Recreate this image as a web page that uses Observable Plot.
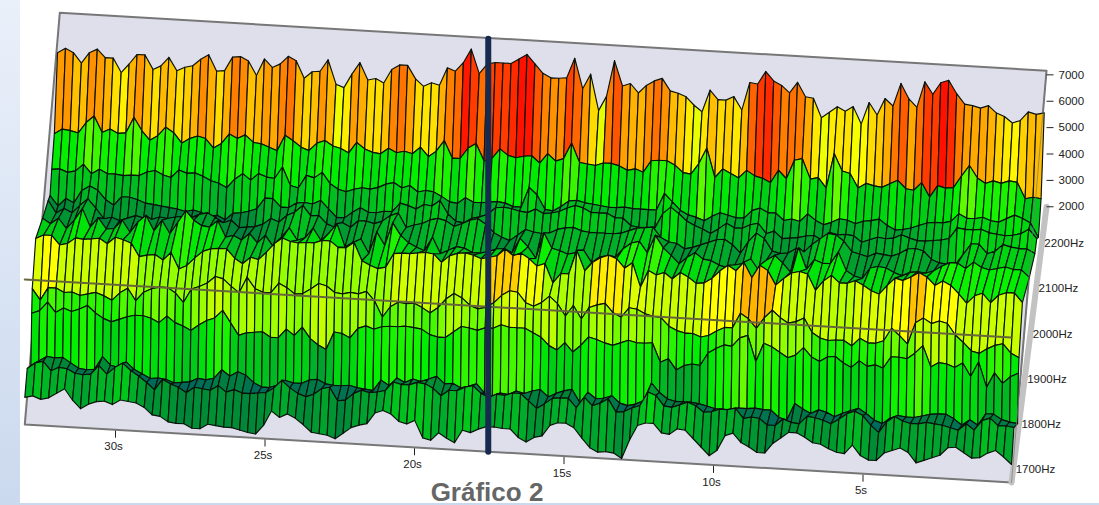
<!DOCTYPE html>
<html lang="pt">
<head>
<meta charset="utf-8">
<script src="https://cdn.jsdelivr.net/npm/d3@7"></script>
<script src="https://cdn.jsdelivr.net/npm/@observablehq/plot@0.6"></script>
<style>
html,body{margin:0;padding:0;width:1099px;height:505px;overflow:hidden;background:linear-gradient(#eaf0fa,#cbd9ee);}
#sheet{position:absolute;left:20px;top:0;width:1079px;height:503px;background:#fff;}
#chart{position:absolute;left:0;top:0;}
#title{position:absolute;left:387px;width:200px;top:477px;text-align:center;font:bold 26px "Liberation Sans",Arial,sans-serif;color:#666;line-height:30px;}
</style>
</head>
<body>
<div id="sheet"></div>
<div id="chart"></div>
<div id="title">Gráfico 2</div>
<script>
// Surface levels: one value per time column, one array per frequency row (front to back).
const hz1680=[27,29,26,28,33,38,27,19,24,27,28,25,30,29,28,24,17,16,11,10,10,6,6,11,10,9,9,7,5,4,13,28,22,26,22,16,9,8,7,4,10,16,19,21,32,35,32,25,23,27,10,8,16,11,7,20,18,22,25,25,24,24,16,12,17,19,30,33,33,29,19,10,6,7,6,1,20,35,38,38,29,28,34,33,25,17,9,15,30,33,24,20,15,15,25,31,37,37,33,28,27,23,20,19,28,18,14,14,22,25,28,24,14,17,20,23,31,32,27,22,23,28,31,25,18];
const hz1722=[37,43,45,36,40,39,35,34,35,44,36,43,48,41,36,30,23,34,30,27,22,28,27,26,31,25,28,25,25,26,27,32,40,33,28,25,28,34,36,23,24,31,35,33,34,36,45,43,43,46,45,41,34,40,40,44,46,39,35,39,38,41,41,34,27,32,38,39,39,30,41,33,36,41,28,29,33,36,50,47,37,36,39,42,39,33,34,37,37,39,29,31,30,24,24,31,28,27,35,34,32,29,34,40,43,39,30,23,34,40,36,34,34,36,35,34,32,30,37,31,41,44,37,37,36];
const hz1786=[11,16,21,20,21,16,11,10,11,24,16,14,20,13,9,5,6,5,2,3,4,8,7,9,18,12,17,14,7,3,3,6,11,9,9,13,14,10,9,9,10,8,7,6,17,12,20,16,20,18,21,24,17,18,14,16,19,10,7,11,10,14,12,15,17,10,14,17,19,6,17,11,12,15,8,6,8,12,30,21,15,13,13,13,12,10,8,8,8,10,10,11,10,10,3,1,18,13,9,13,11,7,11,14,17,12,6,3,9,12,11,11,13,15,16,16,12,6,12,7,19,19,14,12,11];
const hz1800=[57,60,69,59,64,61,64,68,61,56,53,56,59,61,61,59,55,62,56,53,49,55,60,63,71,59,47,50,51,52,47,47,56,50,59,48,42,38,56,55,51,61,64,61,64,65,65,66,65,64,59,57,57,63,69,68,66,69,69,73,71,71,71,67,63,55,51,59,50,57,66,64,61,59,62,65,63,63,64,45,49,38,43,45,44,57,62,66,65,74,77,51,70,67,62,57,60,68,59,55,60,61,55,51,58,53,55,52,64,64,63,69,77,56,61,60,57,62,49,64,39,54,44,51,55];
const hz1810=[77,66,79,79,75,76,73,75,77,74,70,78,83,71,80,84,86,86,81,72,86,89,93,100,98,91,85,101,90,87,87,97,93,87,88,93,99,97,91,90,92,91,94,85,69,80,85,84,85,81,76,82,91,97,93,86,83,85,90,98,103,102,92,89,93,100,93,81,92,79,91,94,96,87,83,93,92,88,86,85,77,73,71,71,68,70,75,79,79,94,89,80,91,99,92,87,89,93,79,74,72,73,73,68,76,72,72,75,88,81,73,95,100,95,98,96,85,78,70,68,73,77,79,70,66];
const hz1870=[100,104,104,95,97,103,102,103,104,99,106,104,101,88,90,91,86,94,78,82,90,97,100,101,101,92,87,94,92,100,109,115,112,111,112,112,115,115,109,109,115,97,93,90,92,106,107,107,108,109,108,100,107,110,111,109,106,108,110,117,111,114,109,102,105,86,96,96,120,100,109,114,117,114,105,111,87,104,100,103,97,104,100,94,95,100,108,114,109,118,103,116,111,97,104,110,112,110,94,104,110,103,103,106,102,97,94,103,111,109,113,118,114,106,111,107,99,90,98,101,92,100,103,103,94];
const hz1990=[66,61,67,57,66,78,60,70,59,60,69,57,68,75,60,71,58,70,82,73,68,67,74,58,60,56,63,54,62,51,61,71,59,62,72,60,68,78,55,60,64,50,72,59,82,70,63,59,56,70,54,58,62,61,57,57,59,62,63,59,74,66,55,81,66,64,61,63,66,54,60,62,61,70,76,78,67,85,73,66,58,65,70,64,63,59,57,60,62,67,56,67,72,65,56,81,60,70,67,67,79,61,56,54,65,67,66,62,59,63,64,63,66,71,75,75,70,77,72,70,72,74,72,72,65];
const hz2087=[40,28,33,29,37,44,35,25,27,24,27,30,28,27,30,29,31,32,31,35,37,33,28,31,24,25,26,29,35,32,39,43,50,40,41,33,30,35,31,38,38,36,39,45,48,34,37,39,43,45,43,38,41,45,47,42,34,30,27,33,39,37,36,37,41,43,44,41,40,40,40,40,41,44,47,48,49,39,35,34,29,31,34,37,40,41,36,28,40,49,44,32,30,31,36,33,41,47,53,52,46,36,34,32,36,35,34,37,42,43,41,33,30,29,29,40,51,51,42,45,52,50,49,49,45];
const hz2120=[30,20,28,24,37,42,38,29,24,33,33,31,28,27,26,25,24,22,24,22,19,20,16,23,24,26,29,40,40,32,32,37,38,37,41,33,25,25,31,36,32,32,34,34,43,41,38,43,42,48,35,28,27,32,34,37,44,45,44,42,41,45,41,42,44,48,51,49,45,45,45,41,41,34,33,33,33,48,55,49,42,38,35,31,36,42,38,38,42,44,34,37,30,31,32,34,35,31,39,37,38,37,31,34,37,36,37,41,38,36,36,37,38,40,51,50,50,51,48,47,46,47,49,54,45];
const hz2149=[43,44,41,43,50,41,46,42,42,41,42,42,46,48,44,42,50,47,48,45,41,39,35,44,50,44,51,48,47,59,41,39,52,50,56,45,40,38,41,43,42,44,48,50,45,48,42,44,43,39,34,33,39,35,35,36,37,36,33,33,53,46,32,31,36,42,43,41,40,39,38,38,39,38,38,38,38,55,47,39,35,33,30,35,39,37,35,35,43,46,42,42,35,37,35,43,37,33,36,40,39,36,39,40,42,36,32,33,35,38,41,42,42,44,52,48,48,50,47,46,50,54,51,47,33];
const hz2195=[58,63,62,60,71,78,62,66,62,63,79,66,57,62,71,66,56,61,64,62,53,58,68,64,68,61,60,57,54,70,65,59,56,64,67,62,60,56,67,61,58,57,63,59,61,59,66,57,63,74,57,57,68,73,56,59,69,63,61,63,64,57,67,60,63,79,60,59,58,61,61,59,55,57,54,66,67,67,63,56,55,66,82,53,62,58,54,62,57,55,51,64,56,75,77,57,59,49,84,67,65,51,56,54,53,57,61,53,52,60,46,58,56,57,69,80,68,63,66,64,67,66,50,52,51];
const hz2250=[114,119,115,105,116,120,112,112,98,107,117,117,103,107,116,103,107,109,116,121,105,106,120,121,117,103,120,112,116,124,120,103,110,111,123,99,96,110,122,105,107,103,117,122,122,109,102,106,104,122,119,128,142,118,128,130,130,130,135,140,131,122,118,118,119,139,109,124,88,103,139,114,117,108,116,121,124,112,110,107,99,93,115,106,106,110,97,125,124,137,128,124,117,128,114,113,94,100,106,102,107,90,112,100,117,110,133,118,110,136,124,136,139,126,116,115,113,116,109,106,100,103,112,110,112];
// Colour level of the yellow band.
const tone1870=[94,100,100,91,91,91,91,91,91,91,91,91,91,82,82,82,82,82,82,82,82,82,82,82,86,86,86,86,86,86,86,82,82,82,82,82,82,82,82,82,82,82,82,82,84,92,92,92,92,92,92,91,91,91,91,91,91,108,108,108,108,98,98,98,86,86,86,86,86,86,103,103,103,103,94,94,94,91,91,91,91,91,91,91,100,100,100,100,105,112,112,112,112,100,91,91,91,91,91,91,88,88,88,94,94,94,94,94,100,100,110,110,100,100,100,100,91,91,91,91,91,91,91,91,91];

const rowHz=[1680,1722,1786,1800,1810,1870,1990,2087,2120,2149,2195,2250];
const rowLevels=[hz1680,hz1722,hz1786,hz1800,hz1810,hz1870,hz1990,hz2087,hz2120,hz2149,hz2195,hz2250];
const rowToneShift=[0,6,12,0,-8,0,-10,4,6,6,0,0];
const spanSec=33;
const timeTicks=[30,25,20,15,10,5];
const hzTicks=[1700,1800,1900,2000,2100,2200];
const ampTicks=[2000,3000,4000,5000,6000,7000];
const ampPerLevel=37.9;
const cursorSec=17.5;
const planeBackHz=2290, planeTopLevel=136;
const guideLevel=145;
const colorLevels=[18,30,45,62,80,100,118,136];
const colorRange=["#006a5a","#00843a","#00b028","#00f000","#88ff00","#ffff00","#ff9000","#ff1000"];

rowLevels.forEach((r,k)=>{if(r.length!==125)throw new Error("row "+rowHz[k]+" has "+r.length);});
if(tone1870.length!==125)throw new Error("tone "+tone1870.length);

// Oblique projection of (seconds, hertz, level) onto the picture plane.
const X=(t,f)=>1011-29.9*t+(f-1680)*0.0574;
const Y=(t,f,l)=>482-1.76*t-(f-1680)*0.452-l;
const pt=(t,f,l,id,v)=>({x:X(t,f),y:Y(t,f,l),id,v});
const colSec=i=>spanSec-i*spanSec/124;

// Quads back to front
const cells=[];
let id=0;
for(let r=rowHz.length-1;r>=1;r--){
  const back=rowLevels[r],front=rowLevels[r-1],fb=rowHz[r],ff=rowHz[r-1];
  for(let i=0;i<124;i++){
    const t0=colSec(i),t1=colSec(i+1);
    const v=rowHz[r]===1870?tone1870[i]:(back[i]+back[i+1])/2+rowToneShift[r];
    id++;
    cells.push(pt(t0,ff,front[i],id,v),pt(t1,ff,front[i+1],id,v),pt(t1,fb,back[i+1],id,v),pt(t0,fb,back[i],id,v),pt(t0,ff,front[i],id,v));
  }
}
const plane=[pt(spanSec,1680,0),pt(0,1680,0),pt(0,planeBackHz,planeTopLevel),pt(spanSec,planeBackHz,planeTopLevel),pt(spanSec,1680,0)];
const sideWall=[pt(0,1680,0),pt(0,planeBackHz,0)];
const overEdge=[pt(0,1680,0),pt(0,planeBackHz,planeTopLevel)];
const guide=[pt(spanSec,1680,guideLevel),pt(0,1680,guideLevel)];
const cursor=[pt(cursorSec,1680,0),pt(cursorSec,1680,413)];

const timeT=timeTicks.map(t=>({x1:X(t,1680)+1,y1:Y(t,1680,-1),x2:X(t,1680)+1,y2:Y(t,1680,-8),lx:X(t,1680)-1,ly:Y(t,1680,-17),s:t+"s"}));
const hzT=hzTicks.map(f=>({x:X(0,f)+3,y:Y(0,f,0)-4,s:f+"Hz"}));
const ampT=ampTicks.map(a=>{const l=(a-2000)/ampPerLevel;return {x1:X(0,planeBackHz),x2:X(0,planeBackHz)+7,y:Y(0,planeBackHz,l),lx:X(0,planeBackHz)+12,s:String(a)};});

const font='"Liberation Sans",Arial,sans-serif';
const chart=Plot.plot({
  width:1099,height:505,margin:0,
  x:{domain:[0,1099],range:[0,1099],axis:null},
  y:{domain:[0,505],range:[0,505],axis:null},
  color:{type:"linear",domain:colorLevels,range:colorRange,interpolate:"rgb",clamp:true},
  style:{background:"transparent",fontFamily:font},
  marks:[
    Plot.line(plane,{x:"x",y:"y",fill:"#dedfea",stroke:"#777",strokeWidth:2}),
    Plot.line(sideWall,{x:"x",y:"y",stroke:"#c2c2c2",strokeWidth:6}),
    Plot.line(cells,{x:"x",y:"y",z:"id",fill:"v",stroke:"#0a120a",strokeWidth:1.15,strokeLinejoin:"round"}),
    Plot.line(overEdge,{x:"x",y:"y",stroke:"#777",strokeWidth:1,strokeOpacity:0.7}),
    Plot.line(guide,{x:"x",y:"y",stroke:"#66663a",strokeWidth:2}),
    Plot.line(cursor,{x:"x",y:"y",stroke:"#16294f",strokeWidth:6}),
    Plot.link(timeT,{x1:"x1",y1:"y1",x2:"x2",y2:"y2",stroke:"#222",strokeWidth:1}),
    Plot.text(timeT,{x:"lx",y:"ly",text:"s",fontSize:11.5,fill:"#222"}),
    Plot.text(hzT,{x:"x",y:"y",text:"s",textAnchor:"start",fontSize:11.5,fill:"#222"}),
    Plot.link(ampT,{x1:"x1",y1:"y",x2:"x2",y2:"y",stroke:"#222",strokeWidth:1}),
    Plot.text(ampT,{x:"lx",y:"y",text:"s",textAnchor:"start",fontSize:11.5,fill:"#222"})
  ]
});
document.getElementById("chart").appendChild(chart);
</script>
</body>
</html>
